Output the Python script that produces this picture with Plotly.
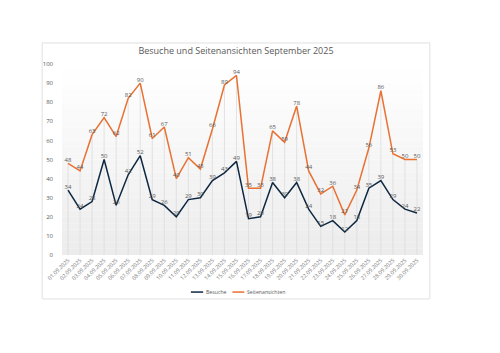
import plotly.graph_objects as go

dates = [f"{d:02d}.09.2025" for d in range(1, 31)]
besuche = [34, 24, 28, 50, 26, 42, 52, 29, 26, 20, 29, 30, 39, 43, 49, 19, 20, 38, 30, 38, 24, 15, 18, 12, 18, 35, 39, 29, 24, 22]
seiten = [48, 44, 63, 72, 62, 82, 90, 61, 67, 40, 51, 45, 66, 89, 94, 35, 35, 65, 59, 78, 44, 32, 36, 21, 34, 56, 86, 53, 50, 50]
y_ticks = list(range(0, 101, 10))
series_names = ["Besuche", "Seitenansichten"]
series_colors = ["#0e2841", "#e97132"]

idx = list(range(len(dates)))
FONT = "Open Sans"
GREY = "#595959"

fig = go.Figure()

# drop lines from the top data point down to axis
dx, dy = [], []
for i in idx:
    dx += [i, i, None]
    dy += [0, max(besuche[i], seiten[i]), None]
fig.add_trace(go.Scatter(x=dx, y=dy, mode="lines", line=dict(color="#dcdcdc", width=0.8),
                         hoverinfo="skip", showlegend=False))

for name, vals, col in zip(series_names, [besuche, seiten], series_colors):
    fig.add_trace(go.Scatter(x=idx, y=vals, mode="lines+text", name=name,
                             line=dict(color=col, width=1.5),
                             text=[str(v) for v in vals], textposition="top center",
                             textfont=dict(size=6, color=GREY, family=FONT),
                             showlegend=False))

shapes = []
annotations = []
# card
shapes.append(dict(type="rect", xref="paper", yref="paper", x0=-0.055, x1=1.019, y0=-0.23, y1=1.11,
                   line=dict(color="#e0e0e0", width=1), fillcolor="white", layer="below"))
# gradient plot background
n = 30
for k in range(n):
    t = k / (n - 1)
    c = int(round(255 - (255 - 236) * (1 - t)))
    shapes.append(dict(type="rect", xref="paper", yref="paper", x0=0, x1=1,
                       y0=k / n, y1=(k + 1) / n, line=dict(width=0),
                       fillcolor=f"rgb({c},{c},{c})", layer="below"))

# manual compact legend
leg_y = -0.194
leg_items = [(0.357, 0.391, 0.394), (0.472, 0.505, 0.508)]
for (x0, x1, xt), name, col in zip(leg_items, series_names, series_colors):
    shapes.append(dict(type="line", xref="paper", yref="paper", x0=x0, x1=x1, y0=leg_y, y1=leg_y,
                       line=dict(color=col, width=1.5)))
    annotations.append(dict(xref="paper", yref="paper", x=xt, y=leg_y, text=name, showarrow=False,
                            xanchor="left", yanchor="middle",
                            font=dict(size=5.2, color=GREY, family=FONT)))

fig.update_layout(
    width=500, height=353,
    margin=dict(l=62, r=77, t=64, b=98),
    paper_bgcolor="white", plot_bgcolor="rgba(0,0,0,0)",
    shapes=shapes, annotations=annotations,
    title=dict(text="Besuche und Seitenansichten September 2025", x=0.472, xanchor="center",
               y=0.855, yanchor="middle", yref="container",
               font=dict(size=9, color=GREY, family=FONT)),
    font=dict(family=FONT, color=GREY),
    showlegend=False,
    xaxis=dict(range=[-0.5, 29.5], tickmode="array", tickvals=idx, ticktext=dates,
               tickangle=-45, tickfont=dict(size=5.5, color="#7a7a7a", family=FONT),
               showgrid=False, zeroline=False, showline=False, ticks=""),
    yaxis=dict(range=[0, 100], tickmode="array", tickvals=y_ticks,
               tickfont=dict(size=6, color=GREY, family=FONT),
               showgrid=False, zeroline=False, showline=False, ticks="", ticklabelstandoff=8),
)

fig.write_html("out.html")
